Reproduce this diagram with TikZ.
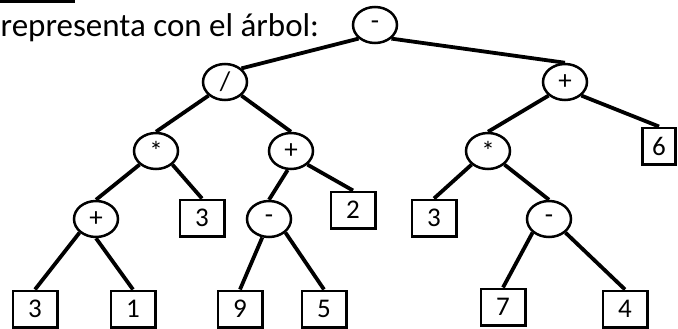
\documentclass[tikz,border=0pt]{standalone}
\usepackage{fontspec}
\setmainfont{Carlito}
\usetikzlibrary{shapes, positioning}

\begin{document}
\begin{tikzpicture}[
        x=1pt, y=-1pt,
        op/.style={draw, ellipse, line width=2.5pt, minimum width=44pt, minimum height=36pt, inner sep=0pt, font=\fontsize{27}{32}\selectfont},
        leaf/.style={draw, rectangle, line width=2.5pt, minimum width=44.5pt, minimum height=36.5pt, inner sep=0pt, font=\fontsize{27}{32}\selectfont},
        branch/.style={line width=3.8pt}
      ]
      \useasboundingbox (0,0) rectangle (678,329);
      \draw[line width=2.8pt] (0,1.4) -- (75,1.4);
      \node[anchor=base west, inner sep=0pt, font=\fontsize{33}{39}\selectfont] (caption) at (0.5,37) {representa con el árbol:};

      \node[op] (root) at (375,25) {-};
      \node[op] (div) at (225,82) {/};
      \node[op] (sumR) at (565,82) {+};
      \node[op] (mulL) at (156,151) {*};
      \node[op] (sumM) at (291,151) {+};
      \node[op] (mulR) at (488,151) {*};
      \node[leaf, minimum width=33pt] (six) at (659,146) {6};
      \node[op] (sumL) at (96,219) {+};
      \node[leaf] (threeA) at (202,218) {3};
      \node[op] (subM) at (269,219) {-};
      \node[leaf] (two) at (353,210) {2};
      \node[leaf] (threeB) at (434,218) {3};
      \node[op] (subR) at (549,219) {-};
      \node[leaf] (threeC) at (35,309) {3};
      \node[leaf] (one) at (133,309) {1};
      \node[leaf] (nine) at (240,309) {9};
      \node[leaf] (five) at (324,309) {5};
      \node[leaf] (seven) at (503,307) {7};
      \node[leaf] (four) at (625,309) {4};

      \draw[branch] (root.south west) -- (div.north east);
      \draw[branch] (root.south east) -- (sumR.north);
      \draw[branch] (div.south west) -- (mulL.north);
      \draw[branch] (div.south east) -- (sumM.north);
      \draw[branch] (sumR.south west) -- (mulR.north);
      \draw[branch] (sumR.south east) -- (six.north);
      \draw[branch] (mulL.south west) -- (sumL.north);
      \draw[branch] (mulL.south east) -- (threeA.north);
      \draw[branch] (sumM.-100) -- (subM.north);
      \draw[branch] (sumM.south east) -- (two.north);
      \draw[branch] (mulR.south west) -- (threeB.north);
      \draw[branch] (mulR.south east) -- (subR.north);
      \draw[branch] (sumL.south west) -- (threeC.north);
      \draw[branch] (sumL.south) -- (one.north);
      \draw[branch] (subM.-110) -- (nine.north);
      \draw[branch] (subM.south east) -- (five.north);
      \draw[branch] (subR.south west) -- (seven.north);
      \draw[branch] (subR.south east) -- (four.north);
\end{tikzpicture}
\end{document}
